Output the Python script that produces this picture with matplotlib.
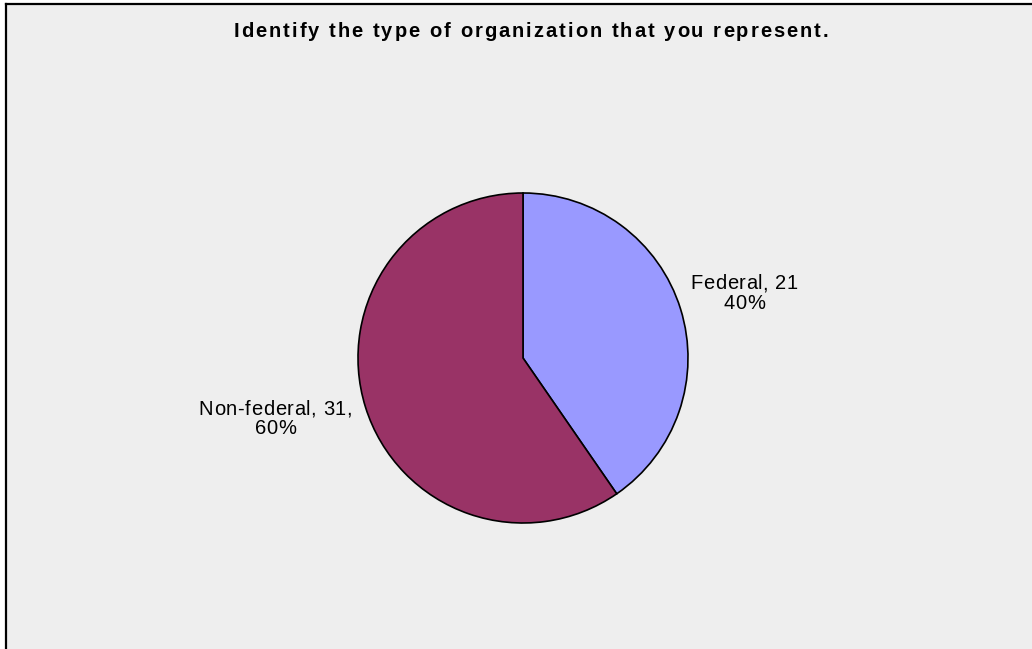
import numpy as np
import matplotlib
matplotlib.use("Agg")
import matplotlib.pyplot as plt
from matplotlib import font_manager, ft2font
from matplotlib.font_manager import FontProperties
from matplotlib.lines import Line2D
from matplotlib.transforms import IdentityTransform

categories = ["Federal", "Non-federal"]
counts = [21, 31]
colors = ["#9999FF", "#993366"]
title = "Identify the type of organization that you represent."

W, H, DPI = 1032, 649, 100
fig = plt.figure(figsize=(W / DPI, H / DPI), dpi=DPI)
fig.patch.set_facecolor("white")

# panel background with a frame on the left and top edges
bg = plt.Rectangle((6 / W, 0), 1 - 6 / W, 1 - 4 / H, transform=fig.transFigure,
                   facecolor="#EEEEEE", edgecolor="none", zorder=-10)
fig.add_artist(bg)
fig.add_artist(Line2D([6 / W, 6 / W], [0, 1 - 3.5 / H], color="black", lw=1.6,
                      transform=fig.transFigure, zorder=-5))
fig.add_artist(Line2D([6 / W, 1], [1 - 3.5 / H, 1 - 3.5 / H], color="black", lw=1.6,
                      transform=fig.transFigure, zorder=-5))

FAMILY = "Liberation Sans"
_NO_HINT = getattr(getattr(ft2font, "LoadFlags", None), "NO_HINTING", None)
if _NO_HINT is None:
    _NO_HINT = ft2font.LOAD_NO_HINTING


def advances(text, size, weight):
    path = font_manager.findfont(FontProperties(family=FAMILY, weight=weight))
    font = ft2font.FT2Font(path)
    font.set_size(size, DPI)
    return [font.load_char(ord(c), flags=_NO_HINT).linearHoriAdvance / 65536.0
            for c in text]


def tracked_text(xc, baseline, text, size, weight="normal", tracking=0.0):
    """Draw a line of text centred on xc (display pixels) with extra letter spacing."""
    adv = advances(text, size, weight)
    total = sum(adv) + tracking * (len(text) - 1)
    x = xc - total / 2
    for c, a in zip(text, adv):
        if not c.isspace():
            fig.text(x, baseline, c, transform=IdentityTransform(), ha="left",
                     va="baseline", fontsize=size, family=FAMILY, fontweight=weight)
        x += a + tracking


cx, cy, r = 523, H - 358, 165
ax = fig.add_axes([(cx - r) / W, (cy - r) / H, 2 * r / W, 2 * r / H])
ax.set_facecolor("none")

wedges, _ = ax.pie(counts, colors=colors, startangle=90, counterclock=False,
                   radius=1.0, wedgeprops=dict(edgecolor="black", linewidth=1.2))
ax.set_xlim(-1.0, 1.0)
ax.set_ylim(-1.0, 1.0)
ax.set_aspect("equal")
ax.axis("off")

total = sum(counts)
label_xy = [(1.34, 0.40), (-1.50, -0.36)]
label_fmt = ["{name}, {n}\n{p:.0f}%", "{name}, {n},\n{p:.0f}%"]
LABEL_SIZE, LABEL_TRACK, LINE_GAP = 14.5, 0.6, 19.5
for name, n, xy, fmt in zip(categories, counts, label_xy, label_fmt):
    lines = fmt.format(name=name, n=n, p=100 * n / total).split("\n")
    px, py = ax.transData.transform(xy)
    cap = 0.716 * LABEL_SIZE * DPI / 72
    top_base = py + LINE_GAP / 2 - cap / 2
    for i, line in enumerate(lines):
        tracked_text(px, top_base - i * LINE_GAP, line, LABEL_SIZE,
                     tracking=LABEL_TRACK)

tracked_text(531, H - 37, title, 14.5, weight="bold", tracking=2.0)

fig.savefig("out.png", dpi=DPI, facecolor=fig.get_facecolor())
